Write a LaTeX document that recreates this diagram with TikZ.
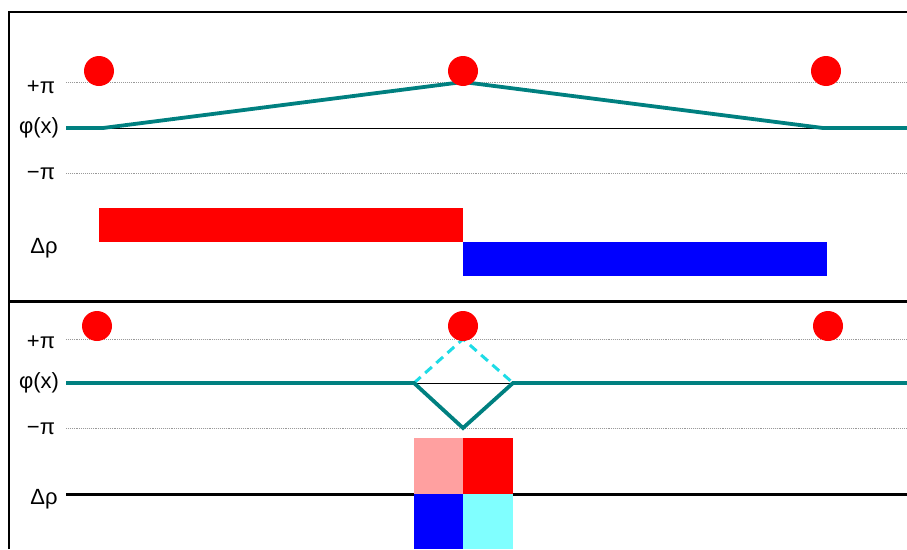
\documentclass[tikz,border=0pt]{standalone}
\usepackage{fontspec}
\setmainfont{Liberation Sans}
\definecolor{tealc}{RGB}{0,128,128}
\definecolor{dashc}{RGB}{30,220,230}
\definecolor{pinkc}{RGB}{255,160,160}
\definecolor{lcyan}{RGB}{128,255,255}
\begin{document}
\begin{tikzpicture}[x=1pt,y=-1pt,
  dotc/.style={circle,fill=red,inner sep=0pt,minimum size=30pt},
  guide/.style={gray!80,densely dotted,line width=0.9pt},
  phase/.style={tealc,line width=3.8pt,line join=miter},
  zero/.style={black,line width=0.8pt},
  lab/.style={font=\fontsize{22}{24}\selectfont,inner sep=0pt},
  frame/.style={black,line width=3pt}]
\useasboundingbox (0,0) rectangle (907,549);
% frame
\draw[line width=2.5pt] (9,549) -- (9,12) -- (907,12);
\draw[frame] (9,301) -- (907,301);
% ---------- panel 1 ----------
\draw[guide] (66,82) -- (907,82);
\draw[guide] (66,173) -- (907,173);
\draw[zero] (103,128) -- (823,128);
\coordinate (a0) at (66,128);
\coordinate (a1) at (103,128);
\coordinate (a2) at (463,82);
\coordinate (a3) at (823,128);
\coordinate (a4) at (907,128);
\draw[phase] (a0) -- (a1) -- (a2) -- (a3) -- (a4);
\node[dotc] (d11) at (99,71) {};
\node[dotc] (d12) at (463,71) {};
\node[dotc] (d13) at (826,71) {};
\fill[red] (99,208) rectangle (463,242);
\fill[blue] (463,242) rectangle (827,276);
\node[lab] (p1) at (41,87) {+π};
\node[lab] (f1) at (39,128) {φ(x)};
\node[lab] (m1) at (41,174) {−π};
\node[lab] (r1) at (44,248) {Δρ};
% ---------- panel 2 ----------
\draw[guide] (66,339) -- (907,339);
\draw[guide] (66,428) -- (907,428);
\draw[zero] (414,383) -- (513,383);
\coordinate (b0) at (66,383);
\coordinate (b1) at (414,383);
\coordinate (b2) at (463,428);
\coordinate (b3) at (513,383);
\coordinate (b4) at (907,383);
\coordinate (bt) at (463,339);
\draw[dashc,line width=3pt,dash pattern=on 9pt off 6pt] (b1) -- (bt) -- (b3);
\draw[phase] (b0) -- (b1) -- (b2) -- (b3) -- (b4);
\node[dotc] (d21) at (97,326) {};
\node[dotc] (d22) at (463,326) {};
\node[dotc] (d23) at (828,326) {};
\fill[pinkc] (414,438) rectangle (463,494);
\fill[red] (463,438) rectangle (513,494);
\fill[blue] (414,494) rectangle (463,549);
\fill[lcyan] (463,494) rectangle (513,549);
\draw[black,line width=3pt] (66,494) -- (414,494);
\draw[black,line width=3pt] (513,494) -- (907,494);
\node[lab] (p2) at (41,342) {+π};
\node[lab] (f2) at (39,383) {φ(x)};
\node[lab] (m2) at (41,429) {−π};
\node[lab] (r2) at (44,499) {Δρ};
\end{tikzpicture}
\end{document}
